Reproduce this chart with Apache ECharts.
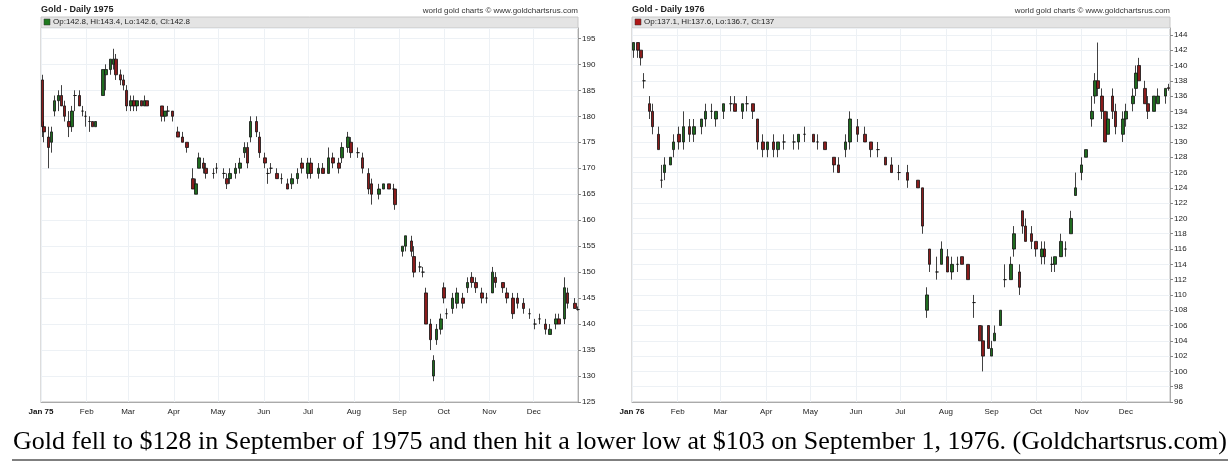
<!DOCTYPE html>
<html><head><meta charset="utf-8">
<script src="https://cdn.jsdelivr.net/npm/echarts@6/dist/echarts.min.js"></script>
<style>html,body{margin:0;padding:0;background:#fff}#c{width:1230px;height:465px}</style>
</head><body><div id="c"></div>
<script>
const dates75=["01-02","01-03","01-06","01-08","01-10","01-13","01-15","01-17","01-20","01-22","01-24","01-27","01-29","01-31","02-03","02-05","02-07","02-12","02-14","02-17","02-19","02-21","02-24","02-26","02-28","03-03","03-05","03-07","03-10","03-12","03-14","03-24","03-26","03-28","03-31","04-04","04-07","04-10","04-14","04-16","04-18","04-21","04-23","04-28","04-30","05-05","05-07","05-09","05-13","05-16","05-19","05-21","05-23","05-27","05-29","06-02","06-04","06-06","06-10","06-13","06-17","06-20","06-24","06-27","07-01","07-03","07-08","07-11","07-15","07-18","07-22","07-24","07-28","07-30","08-04","08-07","08-11","08-13","08-18","08-21","08-25","08-28","08-29","09-03","09-05","09-09","09-11","09-15","09-17","09-19","09-22","09-24","09-26","09-29","10-01","10-03","10-07","10-10","10-14","10-17","10-20","10-23","10-27","10-30","11-03","11-05","11-10","11-13","11-17","11-20","11-24","11-28","12-02","12-05","12-09","12-12","12-16","12-18","12-22","12-24","12-29","12-31"];
const open75=[187,178,176,175,181,183,184,182,179,178,184,184,181,180,179,179,178,184,188,189,190,191,188,187,185,182,183,182,183,182,183,182,180,181,181,177,176,175,168,165,170,171,170,169,170,169,168,168,169,170,173,174,176,179,176,172,169,170,169,168,167,167,168,171,169,171,169,170,169,172,171,172,174,175,173,172,169,167,165,166,167,166,166,154,155,156,153,151,150,146,140,130,137,139,147,142,143,144,145,147,149,148,146,145,146,149,148,146,145,145,144,142,140,141,140,138,140,141,141,146,144,142.8];
const high75=[188,179,178,178,184,185,186,183,181,182,185,185,182,181,180,179,179,189,190,191,193,192,189,188,186,184,184,183,183,184,183,182,181,182,181,178,177,175,170,168,173,172,171,170,171,170,169,170,171,172,175,175,180,180,177,173,170,171,170,169,168,169,170,172,172,172,171,171,174,173,172,175,177,176,174,173,170,168,167,167,167,167,166,155,157,157,155,152,151,147,141,134,140,142,148,143,146,147,146,149,150,149,147,146,151,150,148,147,146,146,145,143,141,142,141,140,142,142,149,147,145,143.4];
const low75=[176,175,170,173,180,181,182,179,176,177,181,182,180,178,177,178,178,184,185,188,189,187,186,185,181,181,181,181,182,182,182,179,179,180,179,176,175,173,166,165,170,169,168,168,169,168,166,167,168,169,172,170,175,176,172,170,167,169,168,167,166,166,167,169,168,168,168,169,169,170,169,171,173,172,172,169,165,163,164,166,166,164,162,153,154,153,149,150,149,140,135,129,136,138,144,141,142,143,143,146,147,146,144,144,146,147,146,144,141,143,142,141,139,140,138,138,139,140,140,143,143,142.6];
const close75=[178,177,174,177,183,184,182,180,178,181,184,182,181,180,179,178,179,189,189,191,191,188,187,186,182,183,182,183,182,183,182,180,181,181,180,176,175,174,166,167,172,170,169,169,170,169,167,169,170,171,174,171,179,177,173,171,169,170,168,168,166,168,169,170,171,169,170,169,172,171,170,174,176,173,173,170,166,165,166,167,166,166,163,155,157,154,150,151,150,140,137,133,139,141,145,142,145,146,144,148,148,147,145,145,150,148,147,145,142,144,143,142,140,141,139,139,141,140,147,144,143,142.8];

const dates76=["01-02","01-05","01-07","01-09","01-13","01-15","01-19","01-21","01-23","01-27","01-29","02-02","02-05","02-09","02-12","02-17","02-20","02-24","02-27","03-03","03-08","03-11","03-16","03-19","03-23","03-26","03-30","04-02","04-06","04-09","04-13","04-20","04-23","04-27","05-03","05-06","05-11","05-17","05-20","05-25","05-28","06-02","06-07","06-11","06-16","06-21","06-25","06-30","07-06","07-13","07-16","07-19","07-21","07-26","07-29","08-02","08-05","08-09","08-12","08-16","08-20","08-24","08-26","08-30","09-01","09-03","09-07","09-10","09-14","09-16","09-20","09-22","09-24","09-28","10-01","10-05","10-07","10-12","10-14","10-18","10-21","10-25","10-28","11-01","11-04","11-08","11-10","11-12","11-15","11-17","11-19","11-22","11-24","11-29","12-01","12-06","12-08","12-10","12-14","12-16","12-20","12-23","12-28","12-30"];
const open76=[142,143,142,138,135,134,131,125,126,127,129,131,130,132,131,132,133,134,133,134,135,135,134,135,135,133,130,129,130,129,130,130,130,131,131,130,130,128,127,129,130,132,131,130,129,128,127,126,126,125,124,108,116,113,114,115,113,114,115,114,109,106,104,106,102,104,106,112,112,116,113,121,119,118,117,115,116,114,114,115,116,118,123,126,128,133,136,138,136,134,131,136,134,131,133,135,137,140,137,135,134,135,136,137.1];
const high76=[143,143,142,139,136,135,132,127,128,128,131,132,134,133,133,133,135,135,134,135,136,136,135,136,135,133,131,130,131,130,131,131,131,132,131,131,130,128,128,131,134,133,132,130,130,128,128,127,127,125,124,111,116,115,117,116,115,115,115,114,110,106,106,106,104,106,108,114,115,119,114,121,120,119,117,117,117,115,115,118,117,121,126,128,129,136,139,143,137,134,134,137,135,134,135,137,140,141,138,136,136,137,137,137.6];
const low76=[141,141,140,137,133,131,129,124,125,127,128,129,129,130,130,131,132,133,132,133,134,134,133,134,133,129,128,128,128,128,129,129,129,130,130,129,129,126,126,128,129,130,130,128,128,127,126,125,124,124,118,107,113,112,114,113,112,113,114,112,107,104,100,103,102,104,106,111,112,115,110,118,117,116,115,114,114,113,113,115,115,118,123,125,128,132,135,136,133,130,131,133,131,130,132,134,136,138,135,133,134,135,135,136.7];
const close76=[143,142,141,138,134,132,129,125,127,128,130,130,132,131,132,133,134,134,134,135,135,134,135,135,134,130,129,130,129,130,130,130,131,131,130,130,129,127,126,130,133,131,130,129,129,127,126,126,125,124,119,110,114,113,116,113,114,114,114,112,109,104,102,103,103,105,108,112,114,118,111,119,117,117,116,116,115,114,115,117,116,120,124,127,129,134,138,137,134,130,133,134,132,133,134,136,139,138,135,134,136,136,137,137];

const chart=echarts.init(document.getElementById('c'),null,{renderer:'canvas'});
function build(y,d,o,h,l,c){return d.map((s,i)=>[y+'-'+s,o[i],c[i],l[i],h[i]]);}
const mon=['Jan','Feb','Mar','Apr','May','Jun','Jul','Aug','Sep','Oct','Nov','Dec'];
function xAx(idx,yy){return {type:'time',gridIndex:idx,min:'19'+yy+'-01-01',max:'19'+yy+'-12-31',splitNumber:12,
 axisLine:{lineStyle:{color:'#aaa'}},axisTick:{show:false},
 splitLine:{show:true,lineStyle:{color:'#edf1f5'}},
 axisLabel:{fontSize:8,color:'#222',fontFamily:'Liberation Sans',margin:6,formatter:function(v){const dt=new Date(v);if(dt.getDate()!==1)return '';return dt.getMonth()===0?'{b|Jan '+yy+'}':mon[dt.getMonth()];},rich:{b:{fontWeight:'bold',fontSize:8,color:'#111'}}}};}
function yAx(idx,mn,mx,iv){return {type:'value',gridIndex:idx,position:'right',min:mn,max:mx,interval:iv,
 axisLine:{show:true,lineStyle:{color:'#aaa'}},axisTick:{show:true,lineStyle:{color:'#888'},length:3},
 splitLine:{lineStyle:{color:'#edf1f5'}},
 axisLabel:{fontSize:8,color:'#222',fontFamily:'Liberation Sans',margin:4,showMaxLabel:false}};}
const cs={color:'#1f6b1f',color0:'#8a1c1c',borderColor:'#111',borderColor0:'#111',borderWidth:0.8};
chart.setOption({animation:false,
 grid:[{left:41,top:28,width:537,height:374,show:true,borderColor:'#bbb',borderWidth:1},
       {left:632,top:28,width:538,height:374,show:true,borderColor:'#bbb',borderWidth:1}],
 xAxis:[xAx(0,'75'),xAx(1,'76')],
 yAxis:[yAx(0,125,197,5),yAx(1,96,144.9,2)],
 series:[{type:'candlestick',xAxisIndex:0,yAxisIndex:0,barWidth:3,itemStyle:cs,data:build('1975',dates75,open75,high75,low75,close75)},
         {type:'candlestick',xAxisIndex:1,yAxisIndex:1,barWidth:3,itemStyle:cs,data:build('1976',dates76,open76,high76,low76,close76)}],
 graphic:[
  {type:'text',left:41,top:5,style:{text:'Gold - Daily 1975',font:'bold 9px Liberation Sans',fill:'#222'}},
  {type:'text',right:1230-578,top:7,style:{text:'world gold charts © www.goldchartsrus.com',font:'8px Liberation Sans',fill:'#333'}},
  {type:'rect',shape:{x:41,y:17,width:537,height:11},style:{fill:'#e4e4e4',stroke:'#c8c8c8'}},
  {type:'rect',shape:{x:44,y:19,width:6,height:6},style:{fill:'#1f7a1f',stroke:'#333',lineWidth:0.5}},
  {type:'text',left:53,top:18,style:{text:'Op:142.8, Hi:143.4, Lo:142.6, Cl:142.8',font:'8px Liberation Sans',fill:'#222'}},
  {type:'text',left:632,top:5,style:{text:'Gold - Daily 1976',font:'bold 9px Liberation Sans',fill:'#222'}},
  {type:'text',right:1230-1170,top:7,style:{text:'world gold charts © www.goldchartsrus.com',font:'8px Liberation Sans',fill:'#333'}},
  {type:'rect',shape:{x:632,y:17,width:538,height:11},style:{fill:'#e4e4e4',stroke:'#c8c8c8'}},
  {type:'rect',shape:{x:635,y:19,width:6,height:6},style:{fill:'#b01818',stroke:'#333',lineWidth:0.5}},
  {type:'text',left:644,top:18,style:{text:'Op:137.1, Hi:137.6, Lo:136.7, Cl:137',font:'8px Liberation Sans',fill:'#222'}},
  {type:'text',x:620,y:442,style:{text:'Gold fell to $128 in September of 1975 and then hit a lower low at $103 on September 1, 1976. (Goldchartsrus.com)',font:'26px Liberation Serif',fill:'#000',textAlign:'center',textVerticalAlign:'middle'}},
  {type:'line',shape:{x1:12,y1:460,x2:1228,y2:460},style:{stroke:'#000',lineWidth:1}}
 ]});
</script></body></html>
